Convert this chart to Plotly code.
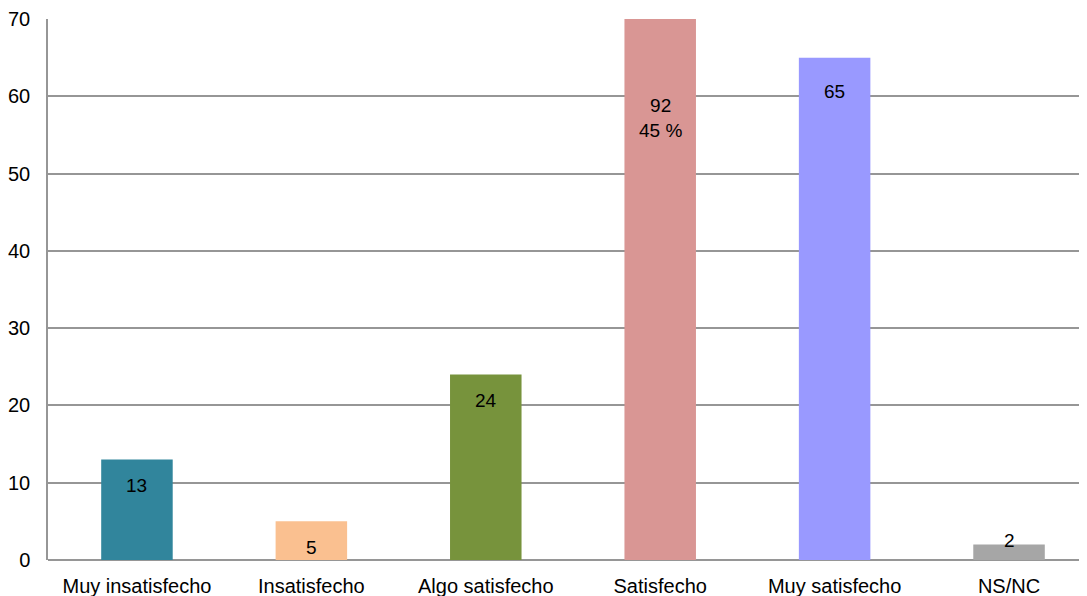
import plotly.graph_objects as go

categories = ["Muy insatisfecho", "Insatisfecho", "Algo satisfecho", "Satisfecho", "Muy satisfecho", "NS/NC"]
values = [13, 5, 24, 92, 65, 2]
pct_labels = ["", "", "", "45 %", "", ""]
colors = ["#31859C", "#FAC090", "#77933C", "#D99694", "#9999FF", "#A6A6A6"]
y_ticks = [0, 10, 20, 30, 40, 50, 60, 70]

YMAX = 70
FONT = "Liberation Sans, Arial, sans-serif"

fig = go.Figure()
fig.add_trace(go.Bar(
    x=categories, y=values, marker=dict(color=colors, line=dict(width=0)),
    width=0.41, showlegend=False, hoverinfo="x+y",
))

# label offsets (pixels) relative to visible bar top
shifts = [-26, -26, -26, -99, -34, 4]
for cat, v, p, s in zip(categories, values, pct_labels, shifts):
    txt = str(v) if not p else f"{v}<br>{p}"
    fig.add_annotation(
        x=cat, y=min(v, YMAX), text=txt, showarrow=False,
        yshift=s, yanchor="middle",
        font=dict(family=FONT, size=19, color="black"),
        xref="x", yref="y",
    )

fig.update_layout(
    width=1079, height=588,
    margin=dict(l=40, r=0, t=11, b=36),
    plot_bgcolor="white", paper_bgcolor="white",
    font=dict(family=FONT, size=19, color="black"),
    bargap=0.59,
)
fig.update_xaxes(
    range=[-0.51, 5.447], showgrid=False, showline=False, ticks="", automargin=False,
    tickfont=dict(family=FONT, size=20, color="black"), ticklabelstandoff=12,
)
fig.update_yaxes(
    range=[0, YMAX], tickvals=y_ticks, showgrid=True, gridcolor="#969696", gridwidth=1.5,
    showline=True, linecolor="#969696", linewidth=1.5, zeroline=True, zerolinecolor="#969696",
    zerolinewidth=1.5, ticks="", ticklabelstandoff=12, automargin=False,
    tickfont=dict(family=FONT, size=20, color="black"),
)

fig.write_html("out.html")
